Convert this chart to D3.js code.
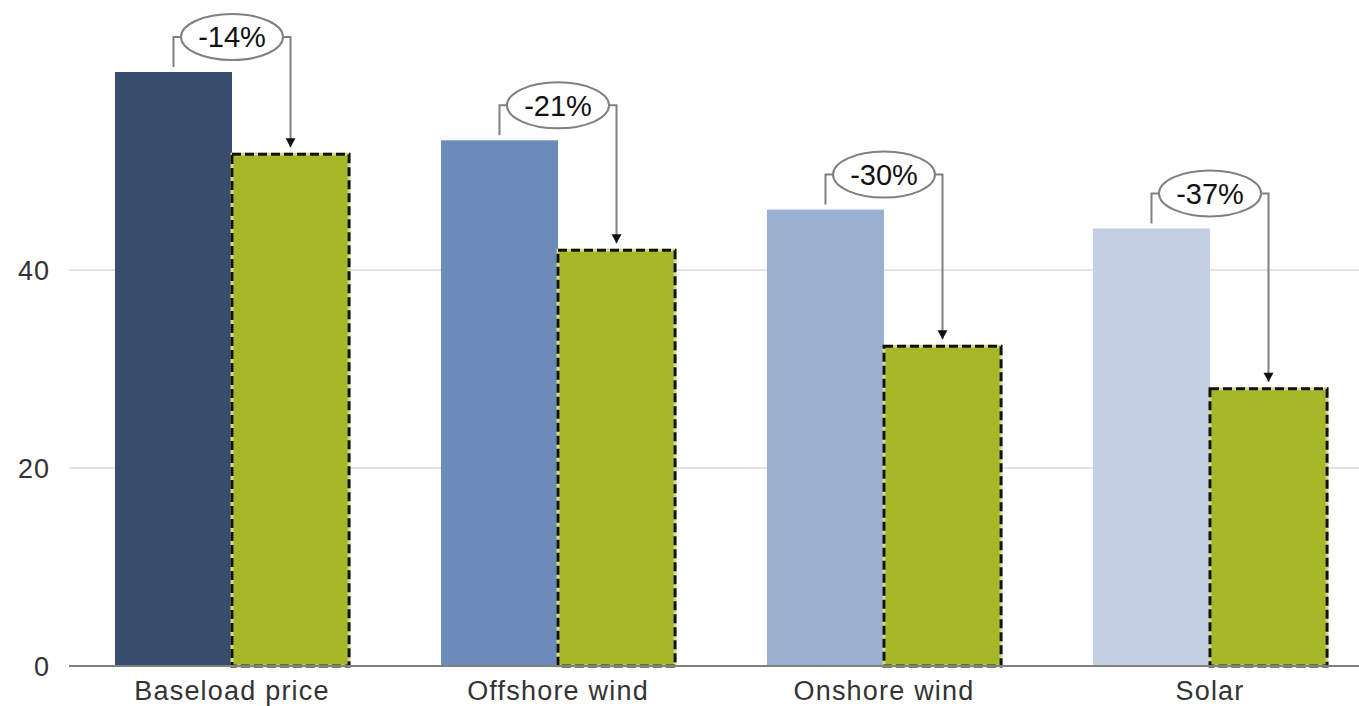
<!DOCTYPE html>
<html>
<head>
<meta charset="utf-8">
<script src="https://cdn.jsdelivr.net/npm/d3@7"></script>
<style>
  html, body { margin: 0; padding: 0; background: #fff; }
  svg { display: block; font-family: "Liberation Sans", Arial, sans-serif; }
</style>
</head>
<body>
<div id="chart"></div>
<script>
const categories = ["Baseload price", "Offshore wind", "Onshore wind", "Solar"];
const beforeValues = [60, 53.1, 46.1, 44.2];
const afterValues = [51.7, 42, 32.3, 28];
const changeLabels = ["-14%", "-21%", "-30%", "-37%"];
const beforeColors = ["#374d6c", "#6b8bb8", "#9bb0d0", "#c3cfe2"];
const yTicks = [0, 20, 40];

const width = 1359, height = 706;
const margin = { top: 0, right: -14, bottom: 40, left: 69 };

const svg = d3.select("#chart")
  .append("svg")
  .attr("width", width)
  .attr("height", height);

const x = d3.scaleBand()
  .domain(categories)
  .range([margin.left, width - margin.right])
  .paddingInner(0.282)
  .paddingOuter(0.141);

const y = d3.scaleLinear()
  .domain([0, 40])
  .range([666, 270]);

const inner = d3.scaleBand()
  .domain(["before", "after"])
  .range([0, x.bandwidth()]);

// gridlines
svg.append("g")
  .selectAll("line")
  .data(yTicks.filter(d => d > 0))
  .join("line")
  .attr("x1", margin.left)
  .attr("x2", width)
  .attr("y1", d => y(d))
  .attr("y2", d => y(d))
  .attr("stroke", "#e4e4e4")
  .attr("stroke-width", 2);

// y tick labels
svg.append("g")
  .selectAll("text")
  .data(yTicks)
  .join("text")
  .attr("x", 50)
  .attr("y", d => y(d))
  .attr("dy", "0.36em")
  .attr("text-anchor", "end")
  .attr("font-size", 27)
  .attr("letter-spacing", 1)
  .attr("fill", "#333")
  .text(d => d);

const groups = svg.append("g")
  .selectAll("g")
  .data(categories)
  .join("g")
  .attr("transform", d => `translate(${x(d)},0)`);

// before bars
groups.append("rect")
  .attr("x", inner("before"))
  .attr("y", (d, i) => y(beforeValues[i]))
  .attr("width", inner.bandwidth())
  .attr("height", (d, i) => y(0) - y(beforeValues[i]))
  .attr("fill", (d, i) => beforeColors[i]);

// after bars: light outline under a black dashed one
groups.append("rect")
  .attr("x", inner("after"))
  .attr("y", (d, i) => y(afterValues[i]))
  .attr("width", inner.bandwidth())
  .attr("height", (d, i) => y(0) - y(afterValues[i]))
  .attr("fill", "#a6b727")
  .attr("stroke", "#d3da8a")
  .attr("stroke-width", 3);

groups.append("rect")
  .attr("x", inner("after"))
  .attr("y", (d, i) => y(afterValues[i]))
  .attr("width", inner.bandwidth())
  .attr("height", (d, i) => y(0) - y(afterValues[i]))
  .attr("fill", "none")
  .attr("stroke", "#111")
  .attr("stroke-width", 3)
  .attr("stroke-dasharray", "9,4");

// baseline
svg.append("line")
  .attr("x1", margin.left)
  .attr("x2", width)
  .attr("y1", y(0))
  .attr("y2", y(0))
  .attr("stroke", "#808080")
  .attr("stroke-width", 2);

// category labels
svg.append("g")
  .selectAll("text")
  .data(categories)
  .join("text")
  .attr("x", d => x(d) + x.bandwidth() / 2)
  .attr("y", 700)
  .attr("text-anchor", "middle")
  .attr("font-size", 27)
  .attr("letter-spacing", 1.2)
  .attr("fill", "#333")
  .text(d => d);

// change annotations
groups.each(function (d, i) {
  const g = d3.select(this);
  const x1 = inner("before") + inner.bandwidth() / 2;
  const x2 = inner("after") + inner.bandwidth() / 2;
  const cx = x.bandwidth() / 2;
  const top1 = y(beforeValues[i]);
  const top2 = y(afterValues[i]);
  const cy = top1 - 35;
  const rx = 51, ry = 23;

  g.append("path")
    .attr("d", `M${x1},${top1 - 5} V${cy} H${cx - rx}`)
    .attr("fill", "none")
    .attr("stroke", "#808080")
    .attr("stroke-width", 2);

  g.append("path")
    .attr("d", `M${cx + rx},${cy} H${x2} V${top2 - 7}`)
    .attr("fill", "none")
    .attr("stroke", "#808080")
    .attr("stroke-width", 2);

  g.append("path")
    .attr("d", `M${x2 - 5},${top2 - 16} L${x2 + 5},${top2 - 16} L${x2},${top2 - 7} Z`)
    .attr("fill", "#111");

  g.append("ellipse")
    .attr("cx", cx)
    .attr("cy", cy)
    .attr("rx", rx)
    .attr("ry", ry)
    .attr("fill", "#fff")
    .attr("stroke", "#808080")
    .attr("stroke-width", 2);

  g.append("text")
    .attr("x", cx)
    .attr("y", cy)
    .attr("dy", "0.36em")
    .attr("text-anchor", "middle")
    .attr("font-size", 29)
    .attr("fill", "#111")
    .text(changeLabels[i]);
});
</script>
</body>
</html>
